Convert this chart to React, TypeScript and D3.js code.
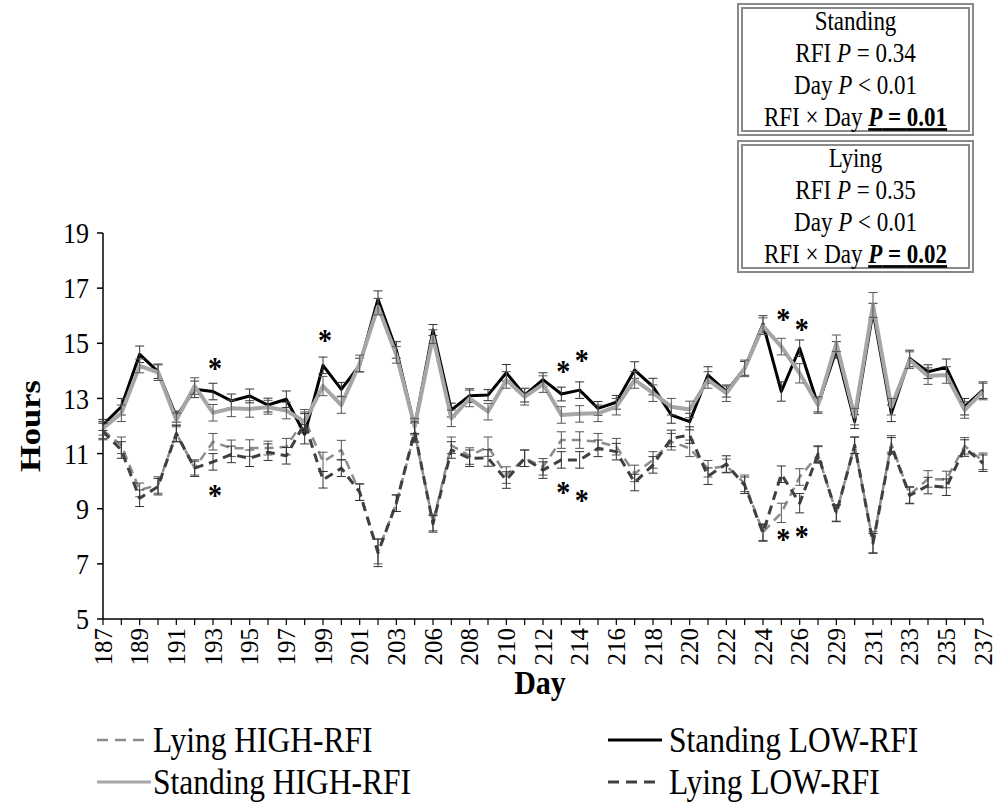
import React from "react";
import * as d3 from "d3";

const days = [187,188,189,190,191,192,193,194,195,196,197,198,199,200,201,202,203,205,206,207,208,209,210,211,212,213,214,215,216,217,218,219,220,221,222,223,224,225,226,228,229,230,231,232,233,234,235,236,237];

const standingLow = [12.04,12.7,14.6,13.97,12.34,13.33,13.25,12.91,13.09,12.76,12.97,11.7,14.2,13.33,14.21,16.6,14.76,11.98,15.48,12.58,13.1,13.12,13.93,13.12,13.68,13.16,13.3,12.64,12.86,14.03,13.43,12.4,12.16,13.85,13.25,14.09,15.7,13.25,14.82,12.76,14.76,12.16,16.15,12.46,14.45,13.97,14.13,12.7,13.3];
const standingHigh = [11.92,12.46,14.18,13.95,12.22,13.45,12.48,12.64,12.62,12.68,12.56,12.16,13.45,12.76,14.27,16.33,14.58,11.98,15.24,12.28,13.0,12.52,13.67,13.06,13.52,12.4,12.44,12.46,12.7,13.67,13.19,12.7,12.6,13.67,13.19,14.09,15.62,14.88,13.91,12.76,15.0,12.34,16.39,12.7,14.39,13.81,13.85,12.58,13.25];
const lyingHigh = [11.85,11.3,9.68,9.86,11.73,10.47,11.43,11.19,11.2,11.2,11.25,12.25,10.7,11.13,9.6,7.45,9.2,11.75,8.5,11.3,10.91,11.25,10.22,10.83,10.52,11.49,11.49,11.43,11.25,10.28,10.77,11.43,11.19,10.45,10.55,9.92,8.15,8.85,10.15,10.95,8.85,11.3,7.78,11.35,9.5,10.08,10.06,11.28,10.72];
const lyingLow = [11.8,11.13,9.38,9.8,11.73,10.47,10.7,10.97,10.83,11.05,10.92,12.1,10.05,10.47,9.6,7.4,9.2,11.8,8.45,11.13,10.83,10.84,10.04,10.83,10.4,10.77,10.77,11.19,11.07,9.95,10.59,11.55,11.67,10.18,10.62,9.85,8.12,10.25,9.2,10.98,8.83,11.3,7.75,11.28,9.48,9.84,9.78,11.2,10.65];

const seStandingLow = [0.2,0.3,0.3,0.25,0.2,0.3,0.3,0.25,0.25,0.25,0.3,0.35,0.3,0.25,0.25,0.3,0.3,0.25,0.2,0.25,0.25,0.2,0.3,0.25,0.25,0.25,0.3,0.25,0.25,0.3,0.3,0.3,0.3,0.3,0.2,0.25,0.3,0.35,0.3,0.25,0.3,0.25,0.3,0.3,0.3,0.25,0.3,0.3,0.3];
const seStandingHigh = [0.25,0.3,0.25,0.3,0.25,0.3,0.3,0.3,0.3,0.25,0.3,0.35,0.35,0.3,0.3,0.3,0.3,0.3,0.25,0.3,0.3,0.3,0.3,0.3,0.3,0.3,0.3,0.3,0.3,0.3,0.3,0.3,0.3,0.3,0.3,0.3,0.3,0.3,0.35,0.3,0.3,0.3,0.45,0.3,0.3,0.3,0.3,0.3,0.3];
const seLyingHigh = [0.3,0.3,0.25,0.3,0.3,0.25,0.3,0.3,0.3,0.25,0.3,0.35,0.35,0.35,0.3,0.45,0.3,0.35,0.3,0.3,0.3,0.35,0.3,0.3,0.3,0.3,0.3,0.3,0.3,0.3,0.3,0.3,0.3,0.3,0.25,0.3,0.3,0.35,0.3,0.3,0.3,0.3,0.4,0.3,0.3,0.3,0.3,0.3,0.3];
const seLyingLow = [0.3,0.3,0.3,0.3,0.3,0.3,0.3,0.3,0.3,0.3,0.3,0.35,0.3,0.3,0.3,0.5,0.3,0.35,0.3,0.3,0.3,0.3,0.3,0.3,0.3,0.3,0.3,0.3,0.3,0.3,0.3,0.3,0.3,0.3,0.3,0.3,0.3,0.3,0.35,0.3,0.3,0.3,0.35,0.3,0.3,0.3,0.3,0.3,0.3];

const yTicks = [5,7,9,11,13,15,17,19];

const standingStarDays = [193,199,213,214,225,226];
const standingStarHours = [14.21,15.23,14.1,14.5,16.0,15.62];
const lyingStarDays = [193,213,214,225,226];
const lyingStarHours = [9.6,9.72,9.44,8.0,8.12];

const seriesNames = ["Lying HIGH-RFI","Standing LOW-RFI","Standing HIGH-RFI","Lying LOW-RFI"];

const FONT = "'Liberation Serif', 'Times New Roman', serif";
const SX = 0.87;

type Series = { name: string; values: number[]; se: number[]; color: string; width: number; dash?: string; errColor: string };

function T(props: { x: number; y: number; size: number; anchor?: string; weight?: string; rotate?: number; children: React.ReactNode; baseline?: string }) {
  const { x, y, size, anchor = "start", weight, rotate, children, baseline } = props;
  const tr = `translate(${x},${y})${rotate ? ` rotate(${rotate})` : ""} scale(${SX},1)`;
  return (
    <text transform={tr} fontSize={size / SX} textAnchor={anchor} fontWeight={weight} dominantBaseline={baseline}>
      {children}
    </text>
  );
}

export default function App() {
  const W = 998, H = 806;
  const x = d3.scalePoint<string>().domain(days.map(String)).range([103, 983]);
  const y = d3.scaleLinear().domain([5, 19]).range([619, 233]);

  const series: Series[] = [
    { name: seriesNames[0], values: lyingHigh, se: seLyingHigh, color: "#8c8c8c", width: 2.5, dash: "9,6", errColor: "#555" },
    { name: seriesNames[1], values: standingLow, se: seStandingLow, color: "#000000", width: 3, errColor: "#333" },
    { name: seriesNames[2], values: standingHigh, se: seStandingHigh, color: "#a6a6a6", width: 4, errColor: "#555" },
    { name: seriesNames[3], values: lyingLow, se: seLyingLow, color: "#404040", width: 3, dash: "9,6", errColor: "#333" },
  ];

  const line = (vals: number[]) =>
    d3.line<number>().x((_, i) => x(String(days[i])) as number).y((v) => y(v))(vals) || "";

  const capHalf = 4.5;

  const legendItems = [
    { s: series[0], lx: 97, tx: 153, ly: 740 },
    { s: series[1], lx: 608, tx: 669, ly: 740 },
    { s: series[2], lx: 97, tx: 153, ly: 782 },
    { s: series[3], lx: 608, tx: 669, ly: 782 },
  ];

  const boxLeft = 738, boxW = 235;
  const boxes = [
    { top: 4, title: "Standing", rfi: "0.34", day: "< 0.01", inter: "0.01" },
    { top: 141, title: "Lying", rfi: "0.35", day: "< 0.01", inter: "0.02" },
  ];
  const boxH = 131;
  const cx = boxLeft + boxW / 2;

  return (
    <svg width={W} height={H} style={{ position: "absolute", left: 0, top: 0, background: "#fff" }} fontFamily={FONT}>
      <rect x={0} y={0} width={W} height={H} fill="#fff" />
      {/* axes */}
      <line x1={103} x2={103} y1={y(19)} y2={y(5)} stroke="#000" strokeWidth={1.5} />
      {yTicks.map((t) => (
        <g key={"yt" + t}>
          <line x1={97} x2={103} y1={y(t)} y2={y(t)} stroke="#000" strokeWidth={1.5} />
          <T x={89} y={y(t)} size={26} anchor="end" baseline="central">{t}</T>
        </g>
      ))}
      <line x1={103} x2={983} y1={y(5)} y2={y(5)} stroke="#000" strokeWidth={1.5} />
      {days.map((d, i) => (
        <g key={"xt" + d}>
          <line x1={x(String(d))} x2={x(String(d))} y1={619} y2={625} stroke="#000" strokeWidth={1.2} />
          {i % 2 === 0 && (
            <text transform={`translate(${x(String(d))},628) rotate(-90)`} textAnchor="end" dominantBaseline="central" fontSize={25}>{d}</text>
          )}
        </g>
      ))}
      <text transform={`translate(30,426) rotate(-90) scale(1,${SX})`} textAnchor="middle" dominantBaseline="central" fontSize={30 / SX} fontWeight="bold">Hours</text>
      <T x={540} y={682} size={30} anchor="middle" baseline="central" weight="bold">Day</T>

      {/* series */}
      {series.map((s) => (
        <g key={s.name}>
          <path d={line(s.values)} fill="none" stroke={s.color} strokeWidth={s.width} strokeDasharray={s.dash} strokeLinejoin="round" />
          {s.values.map((v, i) => {
            const px = x(String(days[i])) as number;
            const y1 = y(v + s.se[i]);
            const y2 = y(v - s.se[i]);
            return (
              <g key={i} stroke={s.errColor} strokeWidth={1}>
                <line x1={px} x2={px} y1={y1} y2={y2} />
                <line x1={px - capHalf} x2={px + capHalf} y1={y1} y2={y1} />
                <line x1={px - capHalf} x2={px + capHalf} y1={y2} y2={y2} />
              </g>
            );
          })}
        </g>
      ))}

      {/* significance stars */}
      {standingStarDays.map((d, i) => (
        <T key={"ss" + d} x={(x(String(d)) as number) + 2} y={y(standingStarHours[i]) + 14} size={28} anchor="middle" weight="bold">*</T>
      ))}
      {lyingStarDays.map((d, i) => (
        <T key={"ls" + d} x={(x(String(d)) as number) + 2} y={y(lyingStarHours[i]) + 14} size={28} anchor="middle" weight="bold">*</T>
      ))}

      {/* legend */}
      {legendItems.map((it) => (
        <g key={"lg" + it.s.name}>
          <line x1={it.lx} x2={it.lx + 54} y1={it.ly} y2={it.ly} stroke={it.s.color} strokeWidth={it.s.width === 4 ? 3 : it.s.width} strokeDasharray={it.s.dash ? "11,7" : undefined} />
          <T x={it.tx} y={it.ly} size={31.5} baseline="central">{it.s.name}</T>
        </g>
      ))}

      {/* annotation boxes */}
      {boxes.map((b) => (
        <g key={b.title}>
          <rect x={boxLeft} y={b.top} width={boxW} height={boxH} fill="#fff" stroke="#8a8a8a" strokeWidth={2} />
          <rect x={boxLeft + 4} y={b.top + 4} width={boxW - 8} height={boxH - 8} fill="none" stroke="#8a8a8a" strokeWidth={2} />
          <T x={cx} y={b.top + 26} size={23} anchor="middle">{b.title}</T>
          <T x={cx} y={b.top + 58} size={23} anchor="middle">RFI <tspan fontStyle="italic">P</tspan> = {b.rfi}</T>
          <T x={cx} y={b.top + 90} size={23} anchor="middle">Day <tspan fontStyle="italic">P</tspan> {b.day}</T>
          <T x={cx} y={b.top + 122} size={23} anchor="middle">RFI × Day <tspan fontWeight="bold" textDecoration="underline"><tspan fontStyle="italic">P</tspan> = {b.inter}</tspan></T>
        </g>
      ))}
    </svg>
  );
}
